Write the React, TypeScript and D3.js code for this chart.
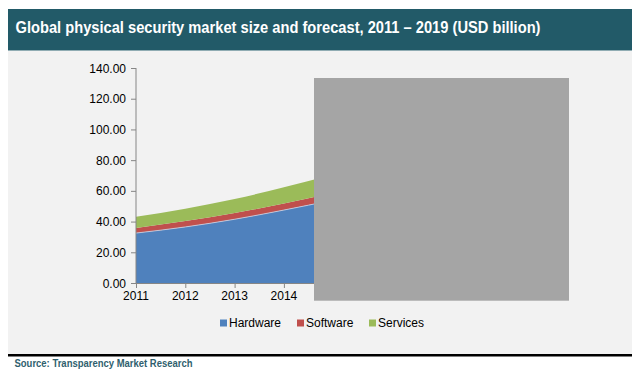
import React from "react";
import * as d3 from "d3";

const years = [2011, 2012, 2013, 2014, 2015, 2016, 2017, 2018, 2019];
const hardware = [32.5, 36.5, 41.5, 47.5, 54, 61, 69, 78, 88];
const software = [3.3, 3.8, 4.1, 4.3, 4.7, 5.1, 5.6, 6.1, 6.7];
const services = [7.3, 8.1, 9.1, 10.5, 12, 13.5, 15, 17, 19];
const seriesNames = ["Hardware", "Software", "Services"];
const seriesColors = ["#4f81bd", "#c0504d", "#9bbb59"];
const yTicks = [0, 20, 40, 60, 80, 100, 120, 140];
const xTickLabels = ["2011", "2012", "2013", "2014"];
const title = "Global physical security market size and forecast, 2011 \u2013 2019 (USD billion)";
const source = "Source:  Transparency Market Research";

export default function App() {
  const W = 642, H = 379;
  const x = d3.scaleLinear().domain([2011, 2019]).range([136, 530.4]);
  const y = d3.scaleLinear().domain([0, 140]).range([283, 68]);
  const rows = years.map((yr, i) => ({ year: yr, Hardware: hardware[i], Software: software[i], Services: services[i] }));
  const stack = d3.stack<any>().keys(seriesNames)(rows);
  const area = d3
    .area<any>()
    .x((d) => x(d.data.year))
    .y0((d) => y(d[0]))
    .y1((d) => y(d[1]))
    .curve(d3.curveMonotoneX);
  const topLine = d3
    .line<any>()
    .x((d) => x(d.data.year))
    .y((d) => y(d[1]))
    .curve(d3.curveMonotoneX);
  const axisColor = "#868686";
  const legendX = [220, 297, 369];
  return (
    <svg width={W} height={H} style={{ position: "absolute", left: 0, top: 0, fontFamily: "Arial, 'Liberation Sans', sans-serif" }}>
      <rect x={0} y={0} width={W} height={H} fill="#ffffff" />
      <rect x={8} y={9} width={624} height={41.5} fill="#225a68" />
      <text x={15.5} y={32.5} fill="#ffffff" fontSize={16} fontWeight="bold" textLength={525} lengthAdjust="spacingAndGlyphs">
        {title}
      </text>
      <rect x={8} y={51} width={624} height={303} fill="#f2f2f2" />
      <rect x={8} y={354} width={624} height={2.5} fill="#000000" />
      <text x={14.5} y={367} fill="#2f5f6e" fontSize={10} fontWeight="bold" textLength={178} lengthAdjust="spacingAndGlyphs">
        {source}
      </text>
      {stack.map((s, i) => (
        <path key={i} d={area(s) as string} fill={seriesColors[i]} />
      ))}
      <path d={topLine(stack[0]) as string} fill="none" stroke="#c9d6e8" strokeWidth={0.8} />
      <line x1={136} x2={136} y1={y(140)} y2={y(0)} stroke={axisColor} strokeWidth={1} />
      <line x1={136} x2={x(2019)} y1={y(0) + 0.5} y2={y(0) + 0.5} stroke={axisColor} strokeWidth={1} />
      {yTicks.map((t) => (
        <g key={t}>
          <line x1={131} x2={136} y1={y(t) + 0.5} y2={y(t) + 0.5} stroke={axisColor} />
          <text x={126} y={y(t) + 4.5} textAnchor="end" fontSize={12} fill="#000">
            {t.toFixed(2)}
          </text>
        </g>
      ))}
      {years.map((yr) => (
        <line key={yr} x1={x(yr) + 0.5} x2={x(yr) + 0.5} y1={y(0)} y2={y(0) + 5} stroke={axisColor} />
      ))}
      {xTickLabels.map((l) => (
        <text key={l} x={x(+l)} y={300} textAnchor="middle" fontSize={12} fill="#000">
          {l}
        </text>
      ))}
      <rect x={314} y={78} width={255} height={222.7} fill="#a5a5a5" />
      {seriesNames.map((n, i) => (
        <g key={n}>
          <rect x={legendX[i]} y={319.5} width={7} height={7} fill={seriesColors[i]} />
          <text x={legendX[i] + 9} y={327} fontSize={12} fill="#000">
            {n}
          </text>
        </g>
      ))}
    </svg>
  );
}
